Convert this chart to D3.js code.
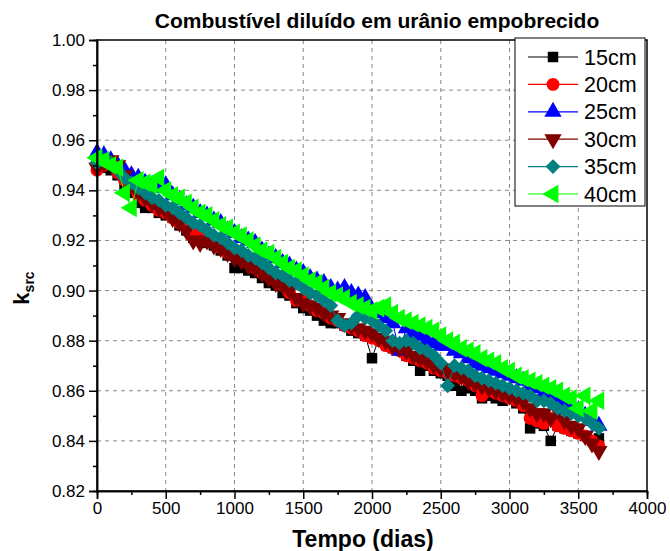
<!DOCTYPE html>
<html><head><meta charset="utf-8">
<script src="https://cdn.jsdelivr.net/npm/d3@7"></script>
<style>
html,body{margin:0;padding:0;background:#fff;}
svg{display:block;font-family:Arial,'Liberation Sans',sans-serif;}
</style></head>
<body>
<svg id="chart" width="670" height="551"></svg>
<script>
const days = [0,50,100,150,200,250,300,350,400,450,500,550,600,650,700,750,800,850,900,950,1000,1050,1100,1150,1200,1250,1300,1350,1400,1450,1500,1550,1600,1650,1700,1750,1800,1850,1900,1950,2000,2050,2100,2150,2200,2250,2300,2350,2400,2450,2500,2550,2600,2650,2700,2750,2800,2850,2900,2950,3000,3050,3100,3150,3200,3250,3300,3350,3400,3450,3500,3550,3600,3650];

const k15 = [.950,.949,.948,.946,.942,.939,.935,.933,.933,.931,.930,.929,.926,.924,.921,.920,.919,.918,.916,.914,.909,.909,.908,.907,.905,.903,.902,.899,.898,.895,.893,.892,.890,.888,.887,.887,.886,.884,.883,.882,.873,.881,.879,.877,.876,.874,.872,.868,.870,.868,.867,.866,.862,.860,.861,.860,.857,.858,.857,.856,.857,.855,.853,.845,.847,.846,.840,.846,.845,.844,.843,.842,.840,.841];
const k20 = [.948,.950,.951,.947,.944,.941,.938,.936,.934,.932,.931,.929,.927,.925,.923,.921,.920,.919,.917,.915,.914,.913,.911,.909,.907,.906,.904,.902,.899,.896,.896,.894,.892,.891,.889,.888,.886,.885,.884,.882,.881,.880,.878,.877,.876,.874,.873,.872,.871,.869,.868,.867,.866,.865,.864,.862,.858,.860,.859,.858,.857,.856,.854,.849,.848,.847,.849,.846,.845,.844,.843,.842,.840,.838];
const k25 = [.955,.954,.952,.950,.948,.946,.945,.943,.942,.941,.942,.938,.936,.934,.933,.931,.930,.928,.927,.924,.923,.921,.920,.919,.916,.914,.913,.911,.910,.908,.907,.905,.904,.903,.901,.900,.901,.899,.898,.897,.892,.891,.889,.887,.876,.885,.883,.882,.880,.879,.878,.878,.876,.875,.873,.871,.870,.869,.868,.867,.866,.865,.864,.862,.861,.859,.858,.857,.855,.854,.852,.850,.848,.846];
const k30 = [.949,.951,.952,.950,.946,.942,.939,.937,.935,.933,.932,.929,.927,.924,.920,.919,.920,.918,.917,.915,.913,.912,.910,.909,.907,.905,.903,.902,.900,.897,.895,.894,.893,.891,.890,.889,.887,.886,.885,.884,.883,.881,.880,.878,.877,.876,.874,.873,.872,.870,.869,.868,.867,.866,.864,.863,.862,.861,.860,.859,.858,.857,.856,.853,.851,.851,.849,.852,.848,.846,.845,.842,.839,.836];
const k35 = [.951,.952,.951,.948,.945,.943,.941,.939,.937,.936,.934,.933,.931,.929,.927,.926,.924,.922,.921,.919,.917,.916,.914,.913,.911,.909,.907,.906,.904,.903,.901,.899,.898,.896,.894,.888,.886,.887,.890,.889,.888,.886,.884,.880,.879,.880,.879,.877,.876,.874,.871,.862,.870,.869,.868,.866,.865,.864,.863,.862,.861,.860,.859,.858,.856,.856,.855,.853,.852,.851,.850,.849,.847,.845];
const k40 = [.953,.952,.950,.949,.939,.933,.944,.943,.942,.945,.940,.938,.937,.935,.933,.931,.930,.928,.926,.925,.923,.922,.920,.918,.916,.915,.913,.911,.909,.908,.906,.904,.903,.901,.899,.898,.897,.895,.894,.893,.892,.893,.894,.891,.889,.888,.887,.886,.885,.884,.882,.880,.879,.877,.876,.875,.873,.872,.871,.869,.868,.866,.865,.864,.863,.862,.861,.860,.858,.857,.853,.858,.852,.856];

const seriesNames = ["15cm","20cm","25cm","30cm","35cm","40cm"];
const seriesValues = [k15,k20,k25,k30,k35,k40];
const seriesColors = ["#000000","#ff0000","#0000ff","#800000","#008080","#00ff00"];
const xTicks = [0,500,1000,1500,2000,2500,3000,3500,4000];
const yTicks = [0.82,0.84,0.86,0.88,0.90,0.92,0.94,0.96,0.98,1.00];
const xMinor = [250,750,1250,1750,2250,2750,3250,3750];
const yMinor = [0.83,0.85,0.87,0.89,0.91,0.93,0.95,0.97,0.99];

const L=97,R=647,T=40,B=491;
const svg = d3.select("#chart");
const x = d3.scaleLinear().domain([0,4000]).range([L,R]);
const y = d3.scaleLinear().domain([0.82,1.00]).range([B,T]);

// grid
const grid = svg.append("g");
grid.selectAll("line.gx").data(xTicks.slice(1,-1)).join("line")
  .attr("x1",d=>x(d)).attr("x2",d=>x(d)).attr("y1",T).attr("y2",B)
  .attr("stroke","#888").attr("stroke-width",1).attr("stroke-dasharray","4,4");
grid.selectAll("line.gy").data(yTicks.slice(1,-1)).join("line")
  .attr("y1",d=>y(d)).attr("y2",d=>y(d)).attr("x1",L).attr("x2",R)
  .attr("stroke","#888").attr("stroke-width",1).attr("stroke-dasharray","4,4");

// symbols
const symbolTypes = [
  d3.symbol().type(d3.symbolSquare).size(110),
  d3.symbol().type(d3.symbolCircle).size(130),
  d3.symbol().type(d3.symbolTriangle).size(130),
  d3.symbol().type(d3.symbolTriangle).size(130),
  d3.symbol().type(d3.symbolSquare).size(110),
  d3.symbol().type(d3.symbolTriangle).size(150)
];
const rotations = [0,0,0,180,45,-90];

const line = d3.line().x(d=>x(d[0])).y(d=>y(d[1]));
const plot = svg.append("g");
seriesValues.forEach((vals,i)=>{
  const pts = days.map((d,j)=>[d,vals[j]]);
  const g = plot.append("g");
  g.append("path").datum(pts).attr("d",line).attr("fill","none")
    .attr("stroke",seriesColors[i]).attr("stroke-width",1);
  g.selectAll("path.m").data(pts).join("path").attr("class","m")
    .attr("d",symbolTypes[i])
    .attr("transform",d=>`translate(${x(d[0])},${y(d[1])}) rotate(${rotations[i]})`)
    .attr("fill",seriesColors[i]);
});

// frame
svg.append("rect").attr("x",L).attr("y",T).attr("width",R-L).attr("height",B-T)
  .attr("fill","none").attr("stroke","#000").attr("stroke-width",1.5);

// axes
svg.append("g").attr("transform",`translate(0,${B})`)
  .call(d3.axisBottom(x).tickValues(xTicks).tickSize(8).tickPadding(3).tickFormat(d3.format("d")));
svg.append("g").attr("transform",`translate(0,${B})`)
  .call(d3.axisBottom(x).tickValues(xMinor).tickSize(4).tickFormat(""));
svg.append("g").attr("transform",`translate(${L},0)`)
  .call(d3.axisLeft(y).tickValues(yTicks).tickSize(8).tickPadding(4).tickFormat(d3.format(".2f")));
svg.append("g").attr("transform",`translate(${L},0)`)
  .call(d3.axisLeft(y).tickValues(yMinor).tickSize(4).tickFormat(""));
svg.selectAll(".domain").attr("stroke","#000").attr("stroke-width",1.5);
svg.selectAll(".tick line").attr("stroke","#000").attr("stroke-width",1.5);
svg.selectAll(".tick text").attr("font-size",17).attr("font-family","Arial,'Liberation Sans',sans-serif").attr("fill","#000");

// titles
svg.append("text").attr("x",377).attr("y",28).attr("text-anchor","middle")
  .attr("font-size",21).attr("font-weight","bold").text("Combustível diluído em urânio empobrecido");
svg.append("text").attr("x",363).attr("y",547).attr("text-anchor","middle")
  .attr("font-size",23).attr("font-weight","bold").text("Tempo (dias)");
const yl = svg.append("text").attr("transform","translate(29,288) rotate(-90)")
  .attr("text-anchor","middle").attr("font-weight","bold").attr("font-size",22);
yl.append("tspan").text("k");
yl.append("tspan").attr("font-size",14).attr("dy",5).text("src");

// legend
const lg = svg.append("g");
lg.append("rect").attr("x",515).attr("y",38).attr("width",130).attr("height",168)
  .attr("fill","#fff").attr("stroke","#000").attr("stroke-width",1);
seriesNames.forEach((n,i)=>{
  const yy = 57 + i*27.4;
  lg.append("line").attr("x1",528).attr("x2",578).attr("y1",yy).attr("y2",yy)
    .attr("stroke",seriesColors[i]).attr("stroke-width",1.2);
  lg.append("path").attr("d",symbolTypes[i])
    .attr("transform",`translate(553,${yy}) rotate(${rotations[i]})`).attr("fill",seriesColors[i]);
  lg.append("text").attr("x",584).attr("y",yy+7.5).attr("font-size",21.5).text(n);
});
</script>
</body></html>
